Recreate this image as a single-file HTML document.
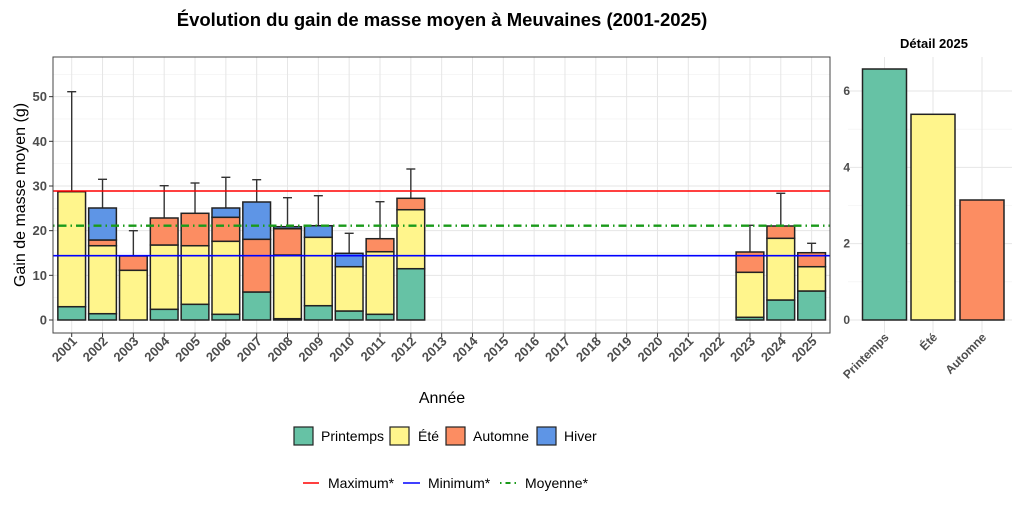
<!DOCTYPE html>
<html><head><meta charset="utf-8"><style>
body{margin:0;background:#fff;}
svg{display:block;font-family:"Liberation Sans",sans-serif;}
</style></head><body>
<svg id="s" width="1024" height="512" viewBox="0 0 1024 512" xmlns="http://www.w3.org/2000/svg">
<rect width="1024" height="512" fill="#fff"/>
<text x="442" y="26" text-anchor="middle" font-size="18.5" font-weight="bold" fill="#000">Évolution du gain de masse moyen à Meuvaines (2001-2025)</text>
<text x="934" y="48" text-anchor="middle" font-size="13" font-weight="bold" fill="#000">Détail 2025</text>
<g id="g"></g>
<text x="442" y="403" text-anchor="middle" font-size="16" fill="#000">Année</text>
<text transform="translate(25,195) rotate(-90)" text-anchor="middle" font-size="16" fill="#000">Gain de masse moyen (g)</text>
<g font-size="14" fill="#000">
<rect x="294" y="427" width="19" height="18" fill="#66c2a5" stroke="#222" stroke-width="1.2"/><text x="321" y="441">Printemps</text>
<rect x="390" y="427" width="19" height="18" fill="#fff58c" stroke="#222" stroke-width="1.2"/><text x="418" y="441">Été</text>
<rect x="446" y="427" width="19" height="18" fill="#fc8d62" stroke="#222" stroke-width="1.2"/><text x="473" y="441">Automne</text>
<rect x="537" y="427" width="19" height="18" fill="#5e95e6" stroke="#222" stroke-width="1.2"/><text x="564" y="441">Hiver</text>
<line x1="303" y1="483" x2="319" y2="483" stroke="#f00" stroke-width="1.5"/><text x="328" y="488">Maximum*</text>
<line x1="403" y1="483" x2="420" y2="483" stroke="#00f" stroke-width="1.5"/><text x="428" y="488">Minimum*</text>
<line x1="500" y1="483" x2="517" y2="483" stroke="#1a9a1a" stroke-width="2" stroke-dasharray="1.5,4,5,4"/><text x="525" y="488">Moyenne*</text>
</g>
</svg>
<script>
const g=document.getElementById('g');let h='';
const L=53,R=830,T=57,B=333,Z=320,K=4.467;
const Y=v=>Z-v*K;
for(let v=5;v<=55;v+=10)h+=`<line x1="${L}" x2="${R}" y1="${Y(v)}" y2="${Y(v)}" stroke="#f0f0f0" stroke-width="0.6"/>`;
for(let v=0;v<=50;v+=10){h+=`<line x1="${L}" x2="${R}" y1="${Y(v)}" y2="${Y(v)}" stroke="#e6e6e6" stroke-width="1"/>`;
h+=`<text x="47" y="${Y(v)+4.5}" text-anchor="end" font-size="13" font-weight="bold" fill="#4d4d4d">${v}</text>`;}
const X=i=>71.7+i*30.83;
for(let i=0;i<25;i++){h+=`<line x1="${X(i)}" x2="${X(i)}" y1="${T}" y2="${B}" stroke="#e6e6e6"/>`;
h+=`<line x1="${X(i)}" x2="${X(i)}" y1="${B}" y2="${B+4}" stroke="#333"/>`;
h+=`<text transform="translate(${X(i)+6},${B+9}) rotate(-45)" text-anchor="end" font-size="13" font-weight="bold" fill="#4d4d4d">${2001+i}</text>`;}
const C=['#66c2a5','#fff58c','#fc8d62','#5e95e6'];
const D=[[0,306.7,191.7,null,null,91.7],[1,313.7,245.7,240,208,179.3],[2,320,270.3,256,null,230.7],
[3,309.3,245,218,null,185.7],[4,304.3,245.7,213.3,null,183],[5,314.3,241.3,217.3,208,177.3],
[6,292,292,239.3,202,179.7],[7,318.7,255,228.7,226.7,197.7],[8,305.7,237.3,null,225.7,195.7],
[9,311,266.7,null,253.3,233.3],[10,314.3,251.7,238.7,null,201.7],[11,268.7,209.7,198.3,null,169],
[22,317.3,272.3,252,null,225.3],[23,300,238.3,226,null,193.3],[24,291,266.7,252.7,null,243.3]];
const w=27.7;let bars='',errs='';
for(const d of D){const x=X(d[0])-w/2;let base=Z;
for(let k=0;k<4;k++){const t=d[1+k];if(t==null)continue;if(t<base){bars+=`<rect x="${x}" y="${t}" width="${w}" height="${base-t}" fill="${C[k]}" stroke="#222" stroke-width="1.5"/>`;base=t;}}
const cx=X(d[0]);errs+=`<line x1="${cx}" x2="${cx}" y1="${base}" y2="${d[5]}" stroke="#333" stroke-width="1.4"/><line x1="${cx-4.5}" x2="${cx+4.5}" y1="${d[5]}" y2="${d[5]}" stroke="#333" stroke-width="1.4"/>`;}
h+=errs+bars;
h+=`<line x1="${L}" x2="${R}" y1="191" y2="191" stroke="#f00" stroke-width="1.6"/>`;
h+=`<line x1="${L}" x2="${R}" y1="255.7" y2="255.7" stroke="#00f" stroke-width="1.6"/>`;
h+=`<line x1="${L}" x2="${R}" y1="225.7" y2="225.7" stroke="#1a9a1a" stroke-width="2.4" stroke-dasharray="1.5,4,8,4"/>`;
h+=`<rect x="${L}" y="${T}" width="${R-L}" height="${B-T}" fill="none" stroke="#444" stroke-width="1"/>`;
for(let i=0;i<=5;i++)h+=`<line x1="${L-4}" x2="${L}" y1="${Y(i*10)}" y2="${Y(i*10)}" stroke="#333"/>`;
const RL=848,RR=1012,Z2=320,K2=38.17;const Y2=v=>Z2-v*K2;
let r='';
for(let v=1;v<=5;v+=2)r+=`<line x1="${RL}" x2="${RR}" y1="${Y2(v)}" y2="${Y2(v)}" stroke="#f0f0f0" stroke-width="0.6"/>`;
for(let v=0;v<=6;v+=2){r+=`<line x1="${RL}" x2="${RR}" y1="${Y2(v)}" y2="${Y2(v)}" stroke="#e6e6e6"/>`;
r+=`<text x="850" y="${Y2(v)+4}" text-anchor="end" font-size="12" font-weight="bold" fill="#4d4d4d">${v}</text>`;}
const rx=[884.5,933,982],rt=[69,114.3,200],rn=['Printemps','Été','Automne'];
for(let i=0;i<3;i++){r+=`<line x1="${rx[i]}" x2="${rx[i]}" y1="57" y2="333" stroke="#e6e6e6"/>`;}
for(let i=0;i<3;i++){r+=`<rect x="${rx[i]-22}" y="${rt[i]}" width="44" height="${Z2-rt[i]}" fill="${C[i]}" stroke="#222" stroke-width="1.5"/>`;
r+=`<text transform="translate(${rx[i]+5},${338}) rotate(-45)" text-anchor="end" font-size="12" font-weight="bold" fill="#4d4d4d">${rn[i]}</text>`;}
h+=r;
g.innerHTML=h;
</script>
</body></html>
